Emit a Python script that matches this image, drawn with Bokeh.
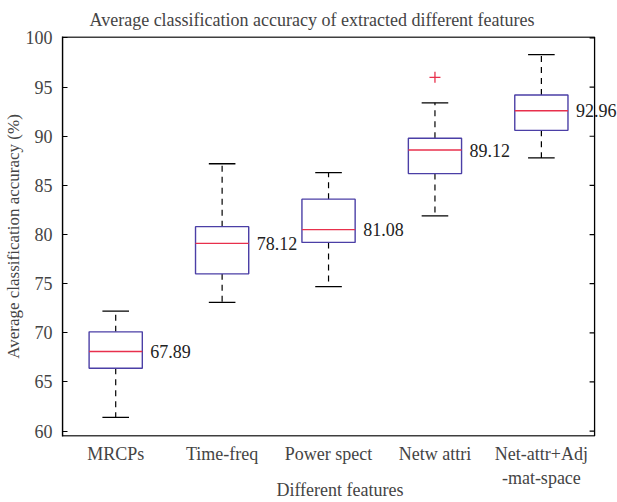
import math
from bokeh.plotting import figure
from bokeh.models import ColumnDataSource, Label, FixedTicker, Range1d
from bokeh.embed import file_html
from bokeh.resources import INLINE

categories = ["MRCPs", "Time-freq", "Power spect", "Netw attri", "Net-attr+Adj\n-mat-space"]
lower_whisker = [61.4, 73.1, 74.7, 81.9, 87.8]
q1 = [66.4, 76.0, 79.2, 86.2, 90.6]
median = [68.1, 79.1, 80.5, 88.6, 92.6]
q3 = [70.1, 80.8, 83.6, 89.8, 94.2]
upper_whisker = [72.2, 87.2, 86.3, 93.4, 98.3]
mean_labels = ["67.89", "78.12", "81.08", "89.12", "92.96"]
outlier_group = [4]
outlier_value = [96.0]
y_ticks = [60, 65, 70, 75, 80, 85, 90, 95, 100]

FONT = "Liberation Serif"
BOX_COLOR = "#4b3fa6"
MED_COLOR = "#e8304c"

pos = list(range(1, len(categories) + 1))
bw = 0.5
cw = 0.25

# axes box (MATLAB style) and the plotting window; the window extends to the
# right of the box so the last value label is not cut off
X_LO, X_HI = 0.5, len(categories) + 0.5
Y_LO, Y_HI = 59.5, 100.1

src = ColumnDataSource(dict(
    x=pos, lo=lower_whisker, q1=q1, med=median, q3=q3, hi=upper_whisker,
    left=[p - bw / 2 for p in pos], right=[p + bw / 2 for p in pos],
    cl=[p - cw / 2 for p in pos], cr=[p + cw / 2 for p in pos],
))

p = figure(width=617, height=502, output_backend="svg", toolbar_location=None,
           x_range=Range1d(X_LO, X_LO + (X_HI - X_LO) * 557 / 534),
           y_range=Range1d(Y_LO - 0.05, Y_HI + 0.05),
           min_border_left=60, min_border_right=0, min_border_top=34, min_border_bottom=65)

p.title.text = "Average classification accuracy of extracted different features"
p.title.text_font = FONT
p.title.text_font_size = "18px"
p.title.text_font_style = "normal"
p.title.align = "left"
p.title.offset = 27
p.title.standoff = 14

p.grid.visible = False
p.outline_line_color = None
p.background_fill_color = "white"
p.border_fill_color = "white"

# axes box and inward ticks on the right side
p.quad(left=[X_LO], right=[X_HI], bottom=[Y_LO], top=[Y_HI], fill_color=None,
       line_color="black", line_width=1.3)
p.ray(x=[X_HI] * len(y_ticks), y=y_ticks, length=5, length_units="screen",
      angle=math.pi, line_color="black", line_width=1.2)

# whiskers
p.segment(x0="x", y0="q3", x1="x", y1="hi", source=src, line_color="black", line_dash="6 5", line_width=1.2)
p.segment(x0="x", y0="q1", x1="x", y1="lo", source=src, line_color="black", line_dash="6 5", line_width=1.2)
# caps
p.segment(x0="cl", y0="hi", x1="cr", y1="hi", source=src, line_color="black", line_width=1.3)
p.segment(x0="cl", y0="lo", x1="cr", y1="lo", source=src, line_color="black", line_width=1.3)
# boxes
p.quad(left="left", right="right", bottom="q1", top="q3", source=src,
       fill_color="white", line_color=BOX_COLOR, line_width=1.4)
# medians
p.segment(x0="left", y0="med", x1="right", y1="med", source=src, line_color=MED_COLOR, line_width=1.4)
# outliers
p.scatter(x=outlier_group, y=outlier_value, marker="cross", size=11, line_color=MED_COLOR, line_width=1.3)

# value labels
for xp, m, t in zip(pos, median, mean_labels):
    p.add_layout(Label(x=xp + bw / 2, y=m, text=t, x_offset=8,
                       text_font=FONT, text_font_size="18px", text_baseline="middle",
                       text_align="left", text_color="#222222"))

# axes
xa = p.xaxis[0]
xa.ticker = FixedTicker(ticks=pos)
xa.major_label_overrides = {i: c for i, c in zip(pos, categories)}
xa.major_tick_line_color = None
xa.minor_tick_line_color = None
xa.axis_line_color = None
xa.major_label_text_font = FONT
xa.major_label_text_font_size = "18px"
xa.major_label_standoff = 1
xa.axis_label = "Different features"
xa.axis_label_text_font = FONT
xa.axis_label_text_font_size = "18px"
xa.axis_label_text_font_style = "normal"
xa.axis_label_standoff = -11

ya = p.yaxis[0]
ya.ticker = FixedTicker(ticks=y_ticks)
ya.major_tick_in = 5
ya.major_tick_out = 0
ya.minor_tick_line_color = None
ya.major_label_text_font = FONT
ya.major_label_text_font_size = "18px"
ya.major_label_standoff = 10
ya.axis_line_width = 1.3
ya.axis_label = "Average classification accuracy (%)"
ya.axis_label_text_font = FONT
ya.axis_label_text_font_size = "17px"
ya.axis_label_text_font_style = "normal"
ya.axis_label_standoff = 0

open("out.html", "w").write(file_html(p, INLINE))
